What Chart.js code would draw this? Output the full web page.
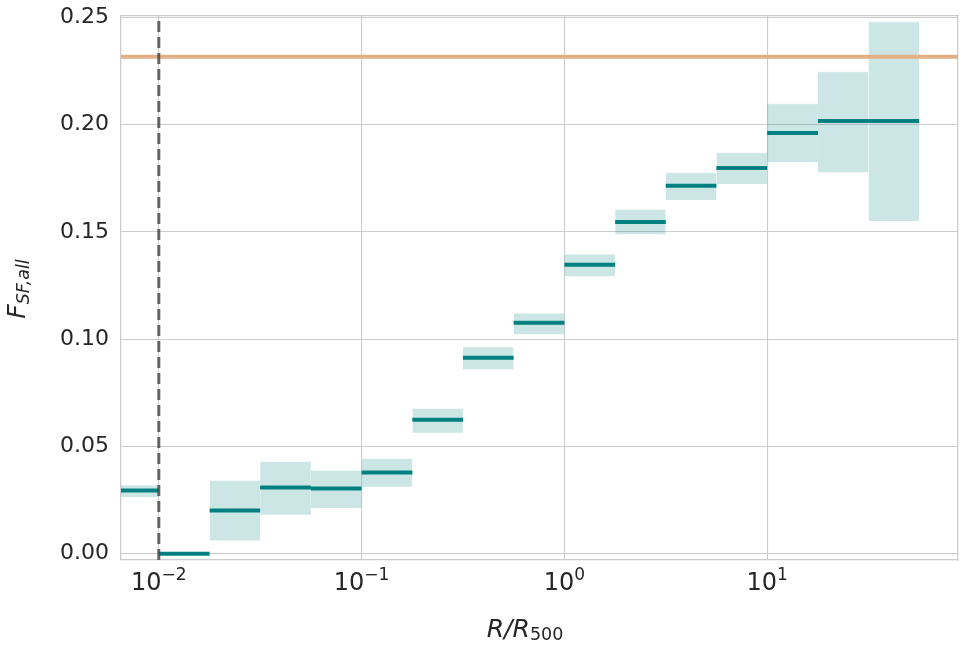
<!DOCTYPE html>
<html>
<head>
<meta charset="utf-8">
<script src="https://cdn.jsdelivr.net/npm/chart.js@4.4.0/dist/chart.umd.min.js"></script>
<style>
  html, body { margin: 0; padding: 0; background: #fff; }
  #wrap { width: 964px; height: 650px; }
</style>
</head>
<body>
<div id="wrap"><canvas id="chart"></canvas></div>
<script>
// ── Data ─────────────────────────────────────────────────────────
const binEdges = [0.00562, 0.01, 0.0178, 0.0316, 0.0562, 0.1, 0.178, 0.316, 0.562, 1, 1.78, 3.16, 5.62, 10, 17.8, 31.6, 56.2];
const medians  = [0.0295, 0.0000, 0.0202, 0.0309, 0.0304, 0.0379, 0.0624, 0.0914, 0.1076, 0.1347, 0.1546, 0.1715, 0.1798, 0.1961, 0.2017, 0.2017];
const upper    = [0.0320, null,   0.0341, 0.0430, 0.0388, 0.0444, 0.0677, 0.0963, 0.1121, 0.1396, 0.1604, 0.1776, 0.1869, 0.2097, 0.2246, 0.2479];
const lower    = [0.0265, null,   0.0062, 0.0182, 0.0213, 0.0312, 0.0564, 0.0860, 0.1023, 0.1293, 0.1489, 0.1649, 0.1723, 0.1824, 0.1778, 0.1551];
const cosmicFraction = 0.2316;
const innerCut = 0.01;

const xTicks = [0.01, 0.1, 1, 10];
const xTickExponents = ['−2', '−1', '0', '1'];
const yTicks = [0, 0.05, 0.10, 0.15, 0.20, 0.25];

const X_MIN = 0.00651, X_MAX = 87.3;
const Y_MIN = -0.0029, Y_MAX = 0.2506;

// ── Styles ───────────────────────────────────────────────────────
const TEAL = '#008080';
const BAND = 'rgba(0,128,128,0.2)';
const ORANGE = '#e2b084';
const GRID = '#cccccc';
const TXT = '#262626';
const FONT = '"DejaVu Sans", sans-serif';

// ── Datasets ─────────────────────────────────────────────────────
const datasets = [];

datasets.push({
  label: 'inner cut',
  data: [{ x: innerCut, y: Y_MIN }, { x: innerCut, y: Y_MAX }],
  borderColor: 'rgba(70,70,70,0.82)', borderWidth: 3, borderDash: [11, 5],
  pointRadius: 0, fill: false, order: 0
});

datasets.push({
  label: 'cosmic',
  data: [{ x: X_MIN, y: cosmicFraction }, { x: X_MAX, y: cosmicFraction }],
  borderColor: ORANGE, borderWidth: 4, pointRadius: 0, fill: false, order: 1
});

const medianPts = [];
medians.forEach((m, i) => {
  medianPts.push({ x: binEdges[i], y: m }, { x: binEdges[i + 1], y: m }, { x: binEdges[i + 1], y: null });
});
datasets.push({
  label: 'median', data: medianPts,
  borderColor: TEAL, borderWidth: 4, pointRadius: 0, fill: false, spanGaps: false, order: 2
});

upper.forEach((u, i) => {
  if (u === null) return;
  datasets.push({
    label: 'hi' + i,
    data: [{ x: binEdges[i], y: u }, { x: binEdges[i + 1], y: u }],
    borderColor: 'rgba(255,255,255,0.45)', borderWidth: 1, pointRadius: 0,
    backgroundColor: BAND, fill: '+1', order: 3
  });
  datasets.push({
    label: 'lo' + i,
    data: [{ x: binEdges[i], y: lower[i] }, { x: binEdges[i + 1], y: lower[i] }],
    borderColor: 'rgba(255,255,255,0.45)', borderWidth: 1, pointRadius: 0,
    fill: false, order: 3
  });
});

// ── Text helpers ─────────────────────────────────────────────────
const drawParts = (ctx, parts, cx, y) => {
  const widths = parts.map(p => { ctx.font = p.font; return ctx.measureText(p.text).width; });
  let x = cx - widths.reduce((s, w) => s + w, 0) / 2;
  parts.forEach((p, i) => {
    ctx.font = p.font;
    ctx.fillText(p.text, x, y + (p.dy || 0));
    x += widths[i];
  });
};

// log tick labels (10 with raised exponent) and axis titles with subscripts
const axisText = {
  id: 'axisText',
  afterDraw(chart) {
    const { ctx, chartArea } = chart;
    const xs = chart.scales.x;
    ctx.save();
    ctx.fillStyle = TXT;
    ctx.textBaseline = 'alphabetic';
    ctx.textAlign = 'left';
    xTicks.forEach((v, i) => {
      drawParts(ctx, [
        { text: '10', font: `24px ${FONT}` },
        { text: xTickExponents[i], font: `17px ${FONT}`, dy: -10 }
      ], xs.getPixelForValue(v), chartArea.bottom + 30);
    });
    drawParts(ctx, [
      { text: 'R/R', font: `italic 25px ${FONT}` },
      { text: '500', font: `17.5px ${FONT}`, dy: 3 }
    ], 525, 637);
    ctx.translate(25, 289);
    ctx.rotate(-Math.PI / 2);
    drawParts(ctx, [
      { text: 'F', font: `italic 25px ${FONT}` },
      { text: 'SF,all', font: `italic 17.5px ${FONT}`, dy: 4 }
    ], 0, 0);
    ctx.restore();
  }
};

// ── Chart ────────────────────────────────────────────────────────
new Chart(document.getElementById('chart'), {
  type: 'line',
  data: { datasets },
  options: {
    responsive: true, maintainAspectRatio: false, animation: false,
    layout: { padding: { top: 16, right: 6, left: 0, bottom: 0 } },
    plugins: { legend: { display: false }, tooltip: { enabled: false } },
    scales: {
      x: {
        type: 'logarithmic', min: X_MIN, max: X_MAX, position: 'bottom',
        afterBuildTicks: s => { s.ticks = xTicks.map(v => ({ value: v })); },
        afterFit: s => { s.height = 90; s.paddingLeft = 0; s.paddingRight = 0; },
        ticks: { display: true, color: 'rgba(0,0,0,0)', font: { family: FONT, size: 24 }, padding: 7,
                 maxRotation: 0, autoSkip: false, callback: () => '' },
        grid: { color: GRID, lineWidth: 1.1, drawTicks: false },
        border: { color: GRID, width: 1.3 }
      },
      y: {
        type: 'linear', min: Y_MIN, max: Y_MAX, position: 'left',
        afterBuildTicks: s => { s.ticks = yTicks.map(v => ({ value: v })); },
        afterFit: s => { s.width = 121; s.paddingTop = 0; s.paddingBottom = 0; },
        ticks: { color: TXT, font: { family: FONT, size: 22 }, padding: 12,
                 callback: v => v.toFixed(2) },
        grid: { color: GRID, lineWidth: 1.1, drawTicks: false },
        border: { color: GRID, width: 1.3 }
      },
      x2: {
        type: 'linear', position: 'top', display: true,
        afterFit: s => { s.height = 0; },
        ticks: { display: false }, grid: { display: false },
        border: { color: GRID, width: 1.3 }
      },
      y2: {
        type: 'linear', position: 'right', display: true,
        afterFit: s => { s.width = 0; },
        ticks: { display: false }, grid: { display: false },
        border: { color: GRID, width: 1.3 }
      }
    }
  },
  plugins: [axisText]
});
</script>
</body>
</html>
